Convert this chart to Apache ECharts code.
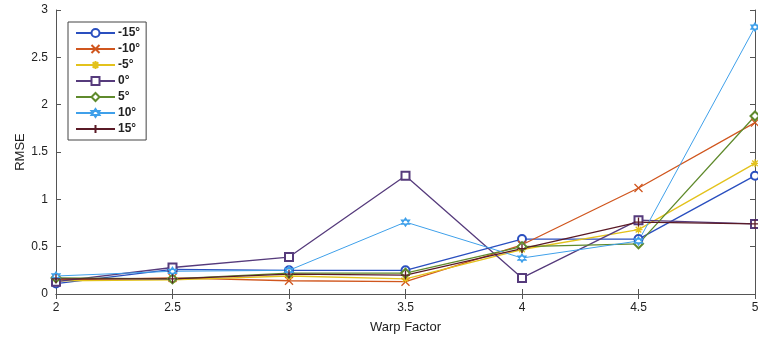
<!DOCTYPE html>
<html><head><meta charset="utf-8">
<script src="https://cdn.jsdelivr.net/npm/echarts@6/dist/echarts.min.js"></script>
<style>html,body{margin:0;padding:0;background:#fff}#c{width:758px;height:342px}</style>
</head><body><div id="c"></div>
<script>
const warpFactor = [2, 2.5, 3, 3.5, 4, 4.5, 5];
const seriesNames = ['-15°', '-10°', '-5°', '0°', '5°', '10°', '15°'];
const m15 = [0.11, 0.26, 0.25, 0.25, 0.58, 0.58, 1.25];
const m10 = [0.15, 0.17, 0.14, 0.13, 0.52, 1.12, 1.81];
const m5  = [0.14, 0.15, 0.19, 0.16, 0.47, 0.68, 1.38];
const p0  = [0.13, 0.28, 0.39, 1.25, 0.17, 0.78, 0.74];
const p5  = [0.17, 0.16, 0.22, 0.22, 0.50, 0.53, 1.88];
const p10 = [0.19, 0.24, 0.25, 0.76, 0.38, 0.56, 2.82];
const p15 = [0.16, 0.16, 0.21, 0.20, 0.48, 0.76, 0.74];
const yTicks = [0, 0.5, 1, 1.5, 2, 2.5, 3];

const values = [m15, m10, m5, p0, p5, p10, p15];
const colors = ['#2a4fbf', '#d0561e', '#e3c21c', '#563b7c', '#5f8a2c', '#3fa0ea', '#5a1a26'];
const symbols = [
  'emptyCircle',
  'path://M0,0L10,10M10,0L0,10',
  'path://M5,0L5,10M0,5L10,5M1.5,1.5L8.5,8.5M8.5,1.5L1.5,8.5',
  'emptyRect',
  'emptyDiamond',
  'path://M5,0L9.33,7.5L0.67,7.5Z M5,10L0.67,2.5L9.33,2.5Z',
  'path://M5,0L5,10M0,5L10,5'
];
const sizes = [8, 8, 8, 8, 9, 8, 9];

const series = seriesNames.map((n, i) => {
  const isPath = symbols[i].startsWith('path://');
  const filled = i === 5;
  return {
    name: n, type: 'line',
    data: warpFactor.map((x, j) => [x, values[i][j]]),
    symbol: symbols[i], symbolSize: sizes[i], showAllSymbol: true,
    lineStyle: { color: colors[i], width: i === 5 ? 1 : 1.3 },
    itemStyle: isPath
      ? { color: filled ? '#fff' : colors[i], borderColor: colors[i], borderWidth: 1.3 }
      : { color: colors[i], borderColor: colors[i], borderWidth: 1.3 },
    emphasis: { disabled: true }
  };
});

const chart = echarts.init(document.getElementById('c'));
const axLine = { show: true, lineStyle: { color: '#555', width: 1 } };
const tick = { show: true, inside: true, length: 5, lineStyle: { color: '#555' } };
const lbl = { color: '#222', fontFamily: 'Liberation Sans, Arial', fontSize: 12 };
chart.setOption({
  animation: false,
  grid: { left: 56, right: 3, top: 10, bottom: 48, show: false, outerBoundsMode: 'none', containLabel: false },
  legend: {
    orient: 'vertical', left: 68, top: 22,
    padding: [4, 6, 4, 7],
    itemWidth: 39, itemHeight: 10, itemGap: 2,
    borderColor: '#444', borderWidth: 1, backgroundColor: '#fff',
    textStyle: { color: '#222', fontFamily: 'Liberation Sans, Arial', fontSize: 12, fontWeight: 'bold', padding: [0, 0, 0, -2], lineHeight: 14 },
    data: seriesNames
  },
  xAxis: [
    { type: 'value', min: 2, max: 5, interval: 0.5, position: 'bottom',
      name: 'Warp Factor', nameLocation: 'middle', nameGap: 27, nameMoveOverlap: false,
      nameTextStyle: { color: '#222', fontFamily: 'Liberation Sans, Arial', fontSize: 13 },
      axisLine: axLine, axisTick: tick, splitLine: { show: false },
      axisLabel: Object.assign({ margin: 8 }, lbl) },
    { type: 'value', min: 2, max: 5, interval: 0.5, position: 'top',
      axisLine: axLine, axisTick: tick, splitLine: { show: false }, axisLabel: { show: false } }
  ],
  yAxis: [
    { type: 'value', min: yTicks[0], max: yTicks[yTicks.length - 1], interval: 0.5, position: 'left',
      name: 'RMSE', nameLocation: 'middle', nameGap: 29, nameMoveOverlap: false, nameRotate: 90,
      nameTextStyle: { color: '#222', fontFamily: 'Liberation Sans, Arial', fontSize: 13 },
      axisLine: axLine, axisTick: tick, splitLine: { show: false },
      axisLabel: Object.assign({ margin: 8 }, lbl) },
    { type: 'value', min: yTicks[0], max: yTicks[yTicks.length - 1], interval: 0.5, position: 'right',
      axisLine: axLine, axisTick: tick, splitLine: { show: false }, axisLabel: { show: false } }
  ],
  series: series
});
</script></body></html>
